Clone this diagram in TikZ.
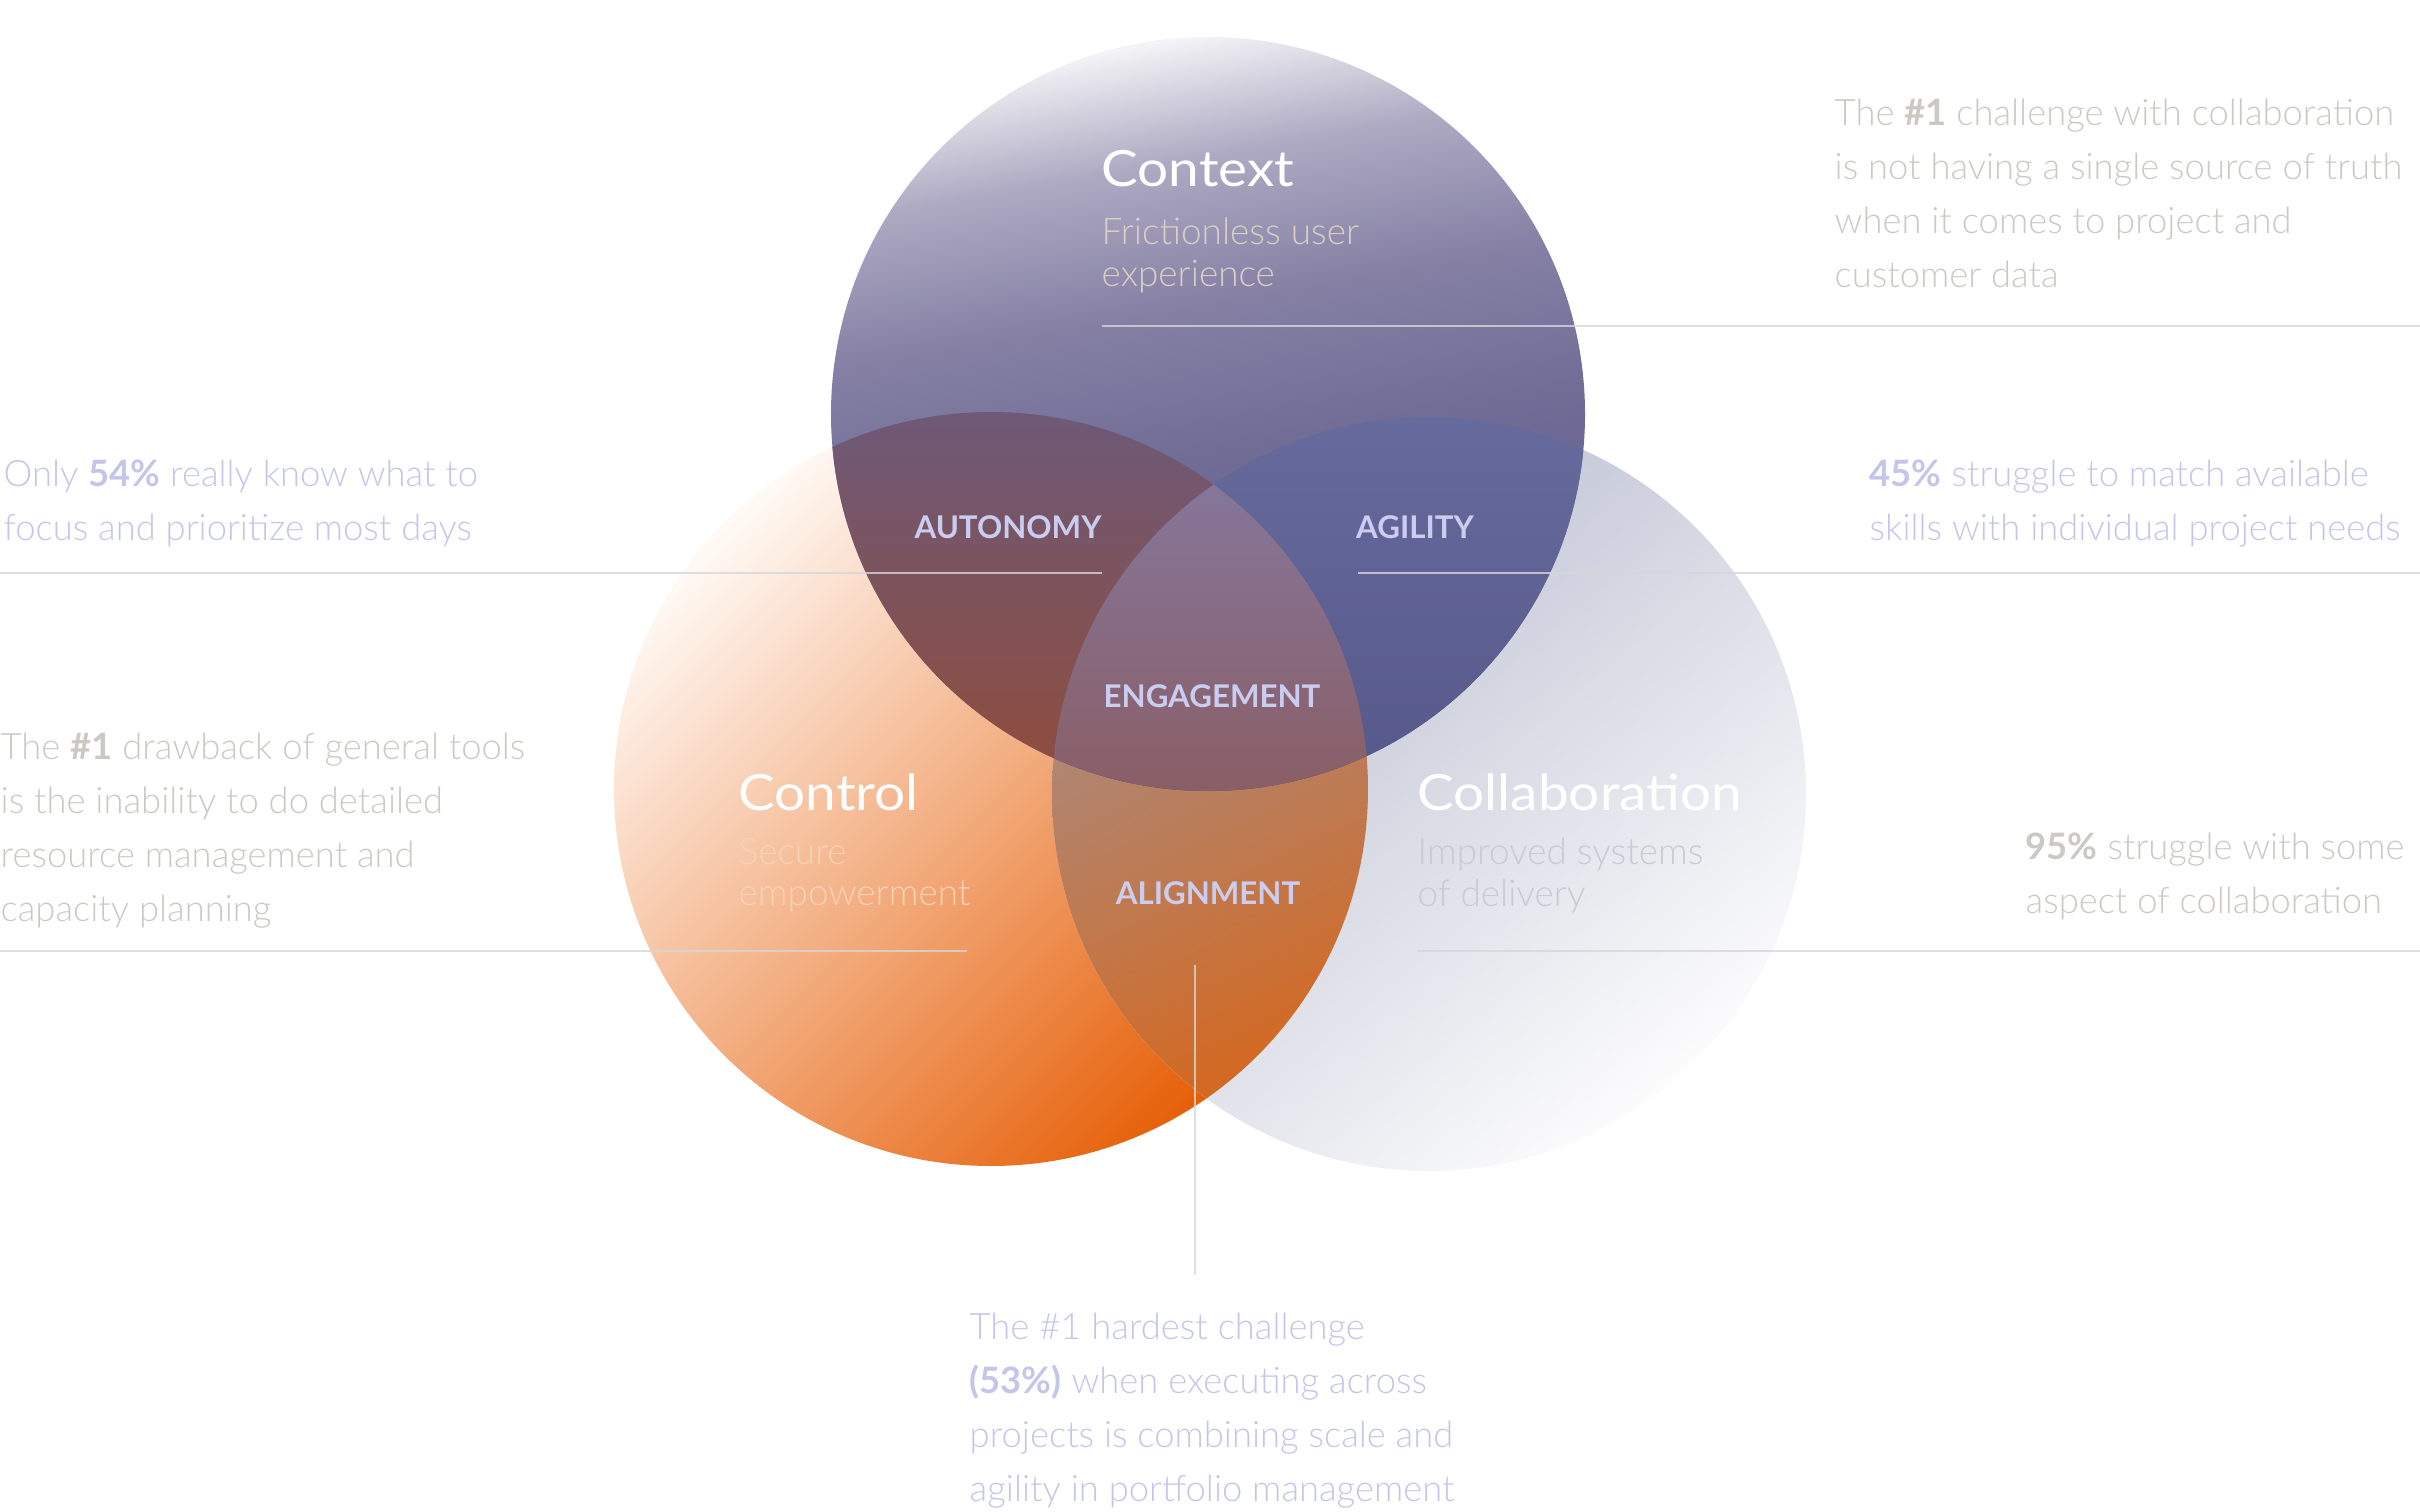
\documentclass[tikz,border=0pt]{standalone}
\usepackage{fontspec}
\IfFontExistsTF{Lato Light}
  {\setmainfont{Lato Light}[BoldFont={Lato Bold}]}
  {\setmainfont{Lato}[BoldFont={Lato Bold}]}
\newfontfamily\headfont{Lato}[BoldFont={Lato Bold}]
\newfontfamily\titlefont{Lato}[FakeStretch=1.1]
\usepackage{tikz}
\usetikzlibrary{positioning}

\definecolor{lavtext}{HTML}{C3C6E8}
\definecolor{greytext}{HTML}{CCC9C4}
\definecolor{zonetext}{HTML}{CACDF0}
\definecolor{rulegrey}{HTML}{D6D6DA}
\definecolor{ctxsubtext}{HTML}{D6D1C4}
\definecolor{ctlsubtext}{HTML}{F6D2B6}
\definecolor{colsubtext}{HTML}{C9CAD2}
%% circle colours
\definecolor{ctxtop}{HTML}{F4F3F6}
\definecolor{ctxlight}{HTML}{AEAAC3}
\definecolor{ctxmid}{HTML}{847FA3}
\definecolor{ctxlow}{HTML}{716C96}
\definecolor{ctxdark}{HTML}{55548A}
\definecolor{ctltop}{HTML}{FFFAF6}
\definecolor{ctlmid}{HTML}{F3AD7C}
\definecolor{ctlbot}{HTML}{E65E06}
\definecolor{coltop}{HTML}{B4B8CC}
\definecolor{colmid}{HTML}{D3D5E0}
\definecolor{colbot}{HTML}{FCFCFD}
%% overlap colours
\definecolor{autotop}{HTML}{6E5978}
\definecolor{autobot}{HTML}{904C3A}
\definecolor{agiltop}{HTML}{676A9C}
\definecolor{agilbot}{HTML}{56588A}
\definecolor{algntop}{HTML}{9F9399}
\definecolor{algnmid}{HTML}{B68872}
\definecolor{algnbot}{HTML}{D26A24}
\definecolor{engtop}{HTML}{85769A}
\definecolor{engbot}{HTML}{8A5E66}

\pgfdeclareverticalshading{context shade}{100bp}{
  color(0bp)=(ctxdark); color(25bp)=(ctxdark); color(47bp)=(ctxlow);
  color(57bp)=(ctxmid); color(67bp)=(ctxlight); color(75bp)=(ctxtop);
  color(100bp)=(ctxtop)}

\tikzset{stat text/.style={
        font=\fontsize{10.35}{15.36}\selectfont, text=#1, align=left,
        anchor=north west, inner sep=0pt,
    },
    zone label/.style={
        font=\headfont\bfseries\fontsize{8.9}{10}\selectfont,
        text=zonetext, inner sep=0pt,
    },
    circle title/.style={
        font=\titlefont\fontsize{14.2}{16}\selectfont, text=white,
        anchor=north west, inner sep=0pt,
    },
    circle sub/.style={
        font=\fontsize{10.5}{11.9}\selectfont, text=#1, align=left,
        anchor=north west, inner sep=0pt,
    },
    rule line/.style={
        draw=rulegrey, line width=0.7pt, draw opacity=0.8,
    },
}

\begin{document}
\begin{tikzpicture}[x=0.1mm, y=-0.1mm]
    \useasboundingbox (0,0) rectangle (2420,1512);
    \coordinate (ctx) at (1208,414);
    \coordinate (ctl) at (991,789);
    \coordinate (col) at (1429,794);

    %% the three circles
    \shade [top color=ctltop, middle color=ctlmid, bottom color=ctlbot,
        shading angle=45] (ctl) circle (377);
    \shade [top color=coltop, middle color=colmid, bottom color=colbot,
        shading angle=40] (col) circle (377);
    \shade [shading=context shade, shading angle=10] (ctx) circle (377);

    %% the overlaps
    \begin{scope}
        \clip (ctl) circle (377);
        \clip (col) circle (377);
        \shade [top color=algntop, middle color=algnmid, bottom color=algnbot,
            shading angle=25] (1052,484) rectangle (1368,1098);
    \end{scope}
    \begin{scope}
        \clip (ctx) circle (377);
        \clip (ctl) circle (377);
        \shade [top color=autotop, bottom color=autobot] (831,412) rectangle (1368,791);
    \end{scope}
    \begin{scope}
        \clip (ctx) circle (377);
        \clip (col) circle (377);
        \shade [top color=agiltop, bottom color=agilbot] (1052,417) rectangle (1585,791);
    \end{scope}
    \begin{scope}
        \clip (ctx) circle (377);
        \clip (ctl) circle (377);
        \clip (col) circle (377);
        \shade [top color=engtop, bottom color=engbot] (1052,484) rectangle (1368,791);
    \end{scope}

    %% circle titles and subtitles
    \node [circle title] (ctx title) at (1101,150) {Context};
    \node [circle sub=ctxsubtext] (ctx sub) at (1101,217) {Frictionless user\\experience};
    \node [circle title] (ctl title) at (738,773) {Control};
    \node [circle sub=ctlsubtext] (ctl sub) at (738,837) {Secure\\empowerment};
    \node [circle title] (col title) at (1417,773) {Collaboration};
    \node [circle sub=colsubtext] (col sub) at (1417,837) {Improved systems\\of delivery};

    %% labels of the overlaps
    \node [zone label] (autonomy) at (1008,527) {AUTONOMY};
    \node [zone label] (agility) at (1415,527) {AGILITY};
    \node [zone label] (engagement) at (1212,696) {ENGAGEMENT};
    \node [zone label] (alignment) at (1208,893) {ALIGNMENT};

    %% the facts round the diagram
    \node [stat text=greytext] (stat truth) at (1834,98)
        {The \textbf{\#1} challenge with collaboration\\is not having a single source of truth\\when it comes to project and\\customer data};
    \node [stat text=lavtext] (stat skills) at (1869,459)
        {\textbf{45\%} struggle to match available\\skills with individual project needs};
    \node [stat text=greytext] (stat aspect) at (2025,832)
        {\textbf{95\%} struggle with some\\aspect of collaboration};
    \node [stat text=lavtext] (stat focus) at (3,459)
        {Only \textbf{54\%} really know what to\\focus and prioritize most days};
    \node [stat text=greytext] (stat tools) at (0,732)
        {The \textbf{\#1} drawback of general tools\\is the inability to do detailed\\resource management and\\capacity planning};
    \node [stat text=lavtext] (stat scale) at (969,1312)
        {The \#1 hardest challenge\\\textbf{(53\%)} when executing across\\projects is combining scale and\\agility in portfolio management};

    %% rules under the texts
    \coordinate (top rule start) at (1102,326);
    \coordinate (top rule end) at (2420,326);
    \coordinate (mid rule left) at (0,573);
    \coordinate (mid rule left end) at (1102,573);
    \coordinate (mid rule right) at (1358,573);
    \coordinate (mid rule right end) at (2420,573);
    \coordinate (low rule left) at (0,951);
    \coordinate (low rule left end) at (967,951);
    \coordinate (low rule right) at (1417,951);
    \coordinate (low rule right end) at (2420,951);
    \coordinate (drop top) at (1195,965);
    \coordinate (drop bottom) at (1195,1275);
    \draw [rule line] (top rule start) -- (top rule end);
    \draw [rule line] (mid rule left) -- (mid rule left end);
    \draw [rule line] (mid rule right) -- (mid rule right end);
    \draw [rule line] (low rule left) -- (low rule left end);
    \draw [rule line] (low rule right) -- (low rule right end);
    \draw [rule line] (drop top) -- (drop bottom);
\end{tikzpicture}
\end{document}
